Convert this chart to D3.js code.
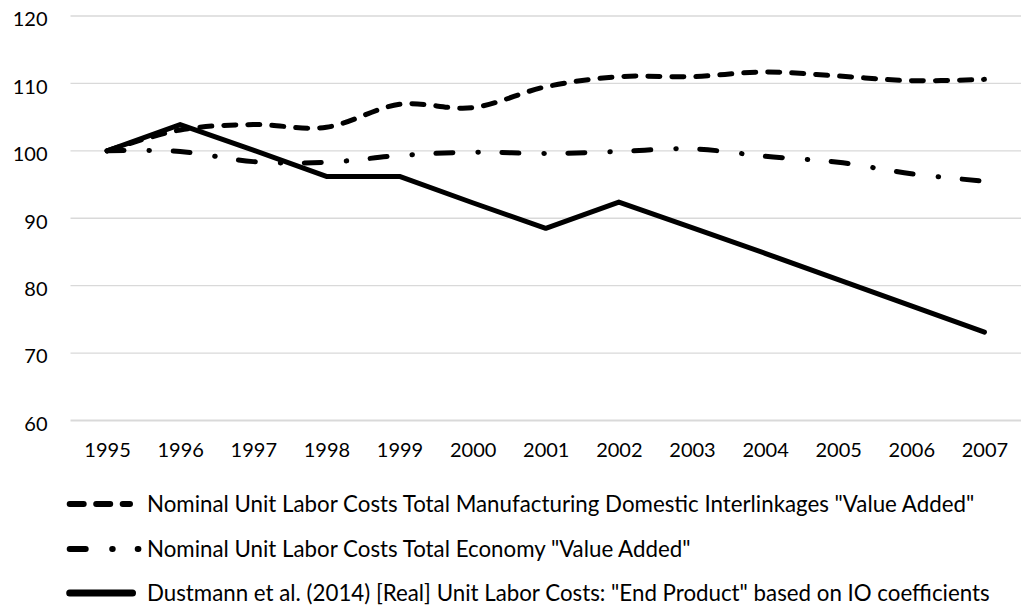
<!DOCTYPE html>
<html><head><meta charset="utf-8">
<script src="https://cdn.jsdelivr.net/npm/d3@7"></script>
<style>body{margin:0;background:#fff}svg{display:block}text{font-family:Lato,"Open Sans",sans-serif;fill:#000}</style>
</head><body><svg id="c" width="1025" height="606"></svg>
<script>
const years = ["1995","1996","1997","1998","1999","2000","2001","2002","2003","2004","2005","2006","2007"];
const manufacturing = [100,103.1,103.9,103.5,106.9,106.4,109.5,111.0,111.0,111.7,111.1,110.4,110.6];
const totalEconomy = [100,99.9,98.4,98.3,99.3,99.8,99.6,99.9,100.3,99.2,98.3,96.6,95.5];
const dustmann = [100,103.9,100.1,96.2,96.2,92.3,88.5,92.4,88.6,84.8,80.9,77.0,73.1];
const yTicks = [60,70,80,90,100,110,120];
const seriesNames = [
  'Nominal Unit Labor Costs Total Manufacturing Domestic Interlinkages "Value Added"',
  'Nominal Unit Labor Costs Total Economy "Value Added"',
  'Dustmann et al. (2014) [Real] Unit Labor Costs: "End Product" based on IO coefficients'
];

(function(){
const svg = d3.select("#c");
const pl = 70.5, pr = 1021, pt = 16, pb = 420.5;
const x = d3.scalePoint().domain(years).range([pl, pr]).padding(0.5);
const y = d3.scaleLinear().domain([60,120]).range([pb, pt]);
const FONT = "Lato,'Open Sans',sans-serif";

svg.append("g").selectAll("line").data(yTicks).join("line")
  .attr("x1", pl).attr("x2", pr)
  .attr("y1", d => y(d)).attr("y2", d => y(d))
  .attr("stroke", "#d9d9d9").attr("stroke-width", d => d === 60 ? 2 : 1.3);

const yAxis = d3.axisLeft(y).tickValues(yTicks).tickSize(0).tickPadding(0);
const ga = svg.append("g").attr("transform", "translate(47.5,3.5)").call(yAxis);
ga.select(".domain").remove();
ga.selectAll("text").attr("font-size", 20).attr("font-family", FONT).attr("fill", "#000");

const xAxis = d3.axisBottom(x).tickSize(0).tickPadding(0);
const gx = svg.append("g").attr("transform", "translate(0,443)").call(xAxis);
gx.select(".domain").remove();
gx.selectAll("text").attr("font-size", 20).attr("font-family", FONT).attr("fill", "#000");

const styles = [
  {data: manufacturing, dash: "12,12", w: 5, curve: d3.curveCardinal.tension(0)},
  {data: totalEconomy, dash: "17,25,0.5,23.5", w: 5, curve: d3.curveCardinal.tension(0)},
  {data: dustmann, dash: null, w: 5, curve: d3.curveLinear}
];
styles.forEach(s => {
  const line = d3.line().x((d,i) => x(years[i])).y(d => y(d)).curve(s.curve);
  svg.append("path").datum(s.data).attr("d", line)
    .attr("fill", "none").attr("stroke", "#000").attr("stroke-width", s.w)
    .attr("stroke-linecap", "round").attr("stroke-linejoin", "round")
    .attr("stroke-dasharray", s.dash);
});

const legY = [504, 549, 593];
const legDash = ["14,12.5", "16,26.5,0.5,25", null];
const legX2 = [130, 138.4, 132.5];
const legW = [6, 6, 7];
const lg = svg.append("g");
seriesNames.forEach((n, i) => {
  lg.append("line").attr("x1", 69.7).attr("x2", legX2[i])
    .attr("y1", legY[i]).attr("y2", legY[i])
    .attr("stroke", "#000").attr("stroke-width", legW[i])
    .attr("stroke-linecap", "round").attr("stroke-dasharray", legDash[i]);
  lg.append("text").attr("x", 147).attr("y", legY[i]).attr("dy", "0.36em")
    .attr("font-size", 22.3).text(n);
});
})();
</script></body></html>
